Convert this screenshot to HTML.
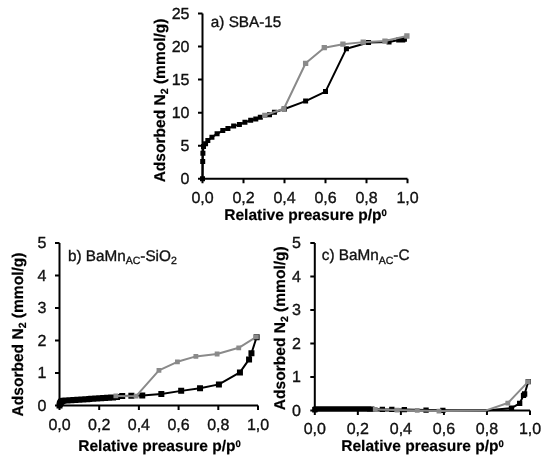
<!DOCTYPE html><html><head><meta charset="utf-8"><style>
html,body{margin:0;padding:0;background:#fff;width:550px;height:461px;overflow:hidden}
svg{display:block;will-change:transform}
text{font-family:'Liberation Sans', sans-serif;fill:#111;stroke:#111;stroke-width:0.35px;text-rendering:geometricPrecision}
.tk{font-size:16px}
.tt{font-size:15.55px;font-weight:bold;fill:#000;stroke:#000;stroke-width:0.2px}
.lb{font-size:15.3px}
</style></head><body>
<svg width="550" height="461" viewBox="0 0 550 461">
<path d="M202.50 13.50V178.80H407.50" fill="none" stroke="#000" stroke-width="2.0"/>
<text class="tk" x="189.50" y="183.90" text-anchor="end">0</text>
<text class="tk" x="189.50" y="150.84" text-anchor="end">5</text>
<text class="tk" x="189.50" y="117.78" text-anchor="end">10</text>
<text class="tk" x="189.50" y="84.72" text-anchor="end">15</text>
<text class="tk" x="189.50" y="51.66" text-anchor="end">20</text>
<text class="tk" x="189.50" y="18.60" text-anchor="end">25</text>
<text class="tk" x="202.50" y="202.80" text-anchor="middle">0,0</text>
<text class="tk" x="243.50" y="202.80" text-anchor="middle">0,2</text>
<text class="tk" x="284.50" y="202.80" text-anchor="middle">0,4</text>
<text class="tk" x="325.50" y="202.80" text-anchor="middle">0,6</text>
<text class="tk" x="366.50" y="202.80" text-anchor="middle">0,8</text>
<text class="tk" x="407.50" y="202.80" text-anchor="middle">1,0</text>
<path d="M198.00 178.80H202.50M198.00 145.74H202.50M198.00 112.68H202.50M198.00 79.62H202.50M198.00 46.56H202.50M198.00 13.50H202.50M202.50 178.80V183.30M243.50 178.80V183.30M284.50 178.80V183.30M325.50 178.80V183.30M366.50 178.80V183.30M407.50 178.80V183.30" stroke="#000" stroke-width="2.0" fill="none"/>
<path d="M202.50 178.80 L202.71 161.41 L202.91 153.21 L203.53 146.40 L205.57 143.76 L207.83 140.45 L211.93 137.14 L217.06 133.84 L222.80 130.53 L227.92 128.42 L233.66 126.10 L239.40 124.58 L244.94 122.27 L250.68 120.35 L255.80 119.09 L260.31 117.18 L269.53 114.66 L274.45 112.22 L284.50 109.04 L305.62 101.11 L325.50 91.59 L346.41 48.68 L368.55 42.46 L389.05 41.93 L398.69 39.95 L402.78 39.95 L404.43 39.29" fill="none" stroke="#000" stroke-width="2" stroke-linejoin="round"/>
<path d="M200.00 176.30h5.0v5.0h-5.0zM200.21 158.91h5.0v5.0h-5.0zM200.41 150.71h5.0v5.0h-5.0zM201.03 143.90h5.0v5.0h-5.0zM203.07 141.26h5.0v5.0h-5.0zM205.33 137.95h5.0v5.0h-5.0zM209.43 134.64h5.0v5.0h-5.0zM214.56 131.34h5.0v5.0h-5.0zM220.30 128.03h5.0v5.0h-5.0zM225.42 125.92h5.0v5.0h-5.0zM231.16 123.60h5.0v5.0h-5.0zM236.90 122.08h5.0v5.0h-5.0zM242.44 119.77h5.0v5.0h-5.0zM248.18 117.85h5.0v5.0h-5.0zM253.30 116.59h5.0v5.0h-5.0zM257.81 114.68h5.0v5.0h-5.0zM267.03 112.16h5.0v5.0h-5.0zM271.95 109.72h5.0v5.0h-5.0zM282.00 106.54h5.0v5.0h-5.0zM303.12 98.61h5.0v5.0h-5.0zM323.00 89.09h5.0v5.0h-5.0zM343.91 46.18h5.0v5.0h-5.0zM366.05 39.96h5.0v5.0h-5.0zM386.55 39.43h5.0v5.0h-5.0zM396.19 37.45h5.0v5.0h-5.0zM400.28 37.45h5.0v5.0h-5.0zM401.93 36.79h5.0v5.0h-5.0z" fill="#000"/>
<path d="M406.88 35.98 L384.95 41.07 L363.22 42.13 L342.93 44.18 L324.27 47.68 L305.62 63.29 L283.88 108.78 L264.82 115.32" fill="none" stroke="#8a8a8a" stroke-width="2" stroke-linejoin="round"/>
<path d="M404.24 33.33h5.3v5.3h-5.3zM382.30 38.42h5.3v5.3h-5.3zM360.57 39.48h5.3v5.3h-5.3zM340.28 41.53h5.3v5.3h-5.3zM321.62 45.03h5.3v5.3h-5.3zM302.97 60.64h5.3v5.3h-5.3zM281.24 106.13h5.3v5.3h-5.3zM262.17 112.67h5.3v5.3h-5.3z" fill="#8a8a8a"/>
<text class="tt" x="305.50" y="219.80" text-anchor="middle">Relative preasure p/p<tspan dy="-4.2" font-size="9.5">0</tspan></text>
<text class="tt" transform="translate(164.50 100.40) rotate(-90)" text-anchor="middle">Adsorbed N<tspan dy="3" font-size="10.5">2</tspan><tspan dy="-3"> (mmol/g)</tspan></text>
<text class="lb" x="210.80" y="26.90">a) SBA-15</text>
<path d="M59.50 242.90V405.50H258.00" fill="none" stroke="#000" stroke-width="2.0"/>
<text class="tk" x="46.40" y="410.60" text-anchor="end">0</text>
<text class="tk" x="46.40" y="378.08" text-anchor="end">1</text>
<text class="tk" x="46.40" y="345.56" text-anchor="end">2</text>
<text class="tk" x="46.40" y="313.04" text-anchor="end">3</text>
<text class="tk" x="46.40" y="280.52" text-anchor="end">4</text>
<text class="tk" x="46.40" y="248.00" text-anchor="end">5</text>
<text class="tk" x="59.50" y="430.30" text-anchor="middle">0,0</text>
<text class="tk" x="99.20" y="430.30" text-anchor="middle">0,2</text>
<text class="tk" x="138.90" y="430.30" text-anchor="middle">0,4</text>
<text class="tk" x="178.60" y="430.30" text-anchor="middle">0,6</text>
<text class="tk" x="218.30" y="430.30" text-anchor="middle">0,8</text>
<text class="tk" x="258.00" y="430.30" text-anchor="middle">1,0</text>
<path d="M55.00 405.50H59.50M55.00 372.98H59.50M55.00 340.46H59.50M55.00 307.94H59.50M55.00 275.42H59.50M55.00 242.90H59.50M59.50 405.50V410.00M99.20 405.50V410.00M138.90 405.50V410.00M178.60 405.50V410.00M218.30 405.50V410.00M258.00 405.50V410.00" stroke="#000" stroke-width="2.0" fill="none"/>
<path d="M59.50 405.50 L59.90 403.97 L60.29 402.94 L60.89 401.98 L61.48 401.43 L62.28 401.04 L63.47 400.77 L65.45 400.57 L67.44 400.43 L69.42 400.30 L71.41 400.17 L73.39 400.04 L75.38 399.91 L77.36 399.78 L79.35 399.65 L81.34 399.52 L83.32 399.39 L85.31 399.26 L87.29 399.13 L89.28 399.00 L91.26 398.87 L93.25 398.74 L95.23 398.61 L97.22 398.48 L99.20 398.35 L101.19 398.22 L103.17 398.09 L105.16 397.96 L107.14 397.83 L109.12 397.70 L111.11 397.57 L113.09 397.44 L117.06 396.88 L122.23 396.07 L131.36 395.74 L142.27 395.42 L161.33 393.99 L181.18 390.87 L200.04 388.30 L218.90 384.39 L239.94 372.39 L249.07 359.39 L251.45 353.21 L256.61 337.31" fill="none" stroke="#000" stroke-width="2" stroke-linejoin="round"/>
<path d="M56.50 402.50h6.0v6.0h-6.0zM56.90 400.97h6.0v6.0h-6.0zM57.29 399.94h6.0v6.0h-6.0zM57.89 398.98h6.0v6.0h-6.0zM58.48 398.43h6.0v6.0h-6.0zM59.28 398.04h6.0v6.0h-6.0zM60.47 397.77h6.0v6.0h-6.0zM62.45 397.57h6.0v6.0h-6.0zM64.44 397.43h6.0v6.0h-6.0zM66.42 397.30h6.0v6.0h-6.0zM68.41 397.17h6.0v6.0h-6.0zM70.39 397.04h6.0v6.0h-6.0zM72.38 396.91h6.0v6.0h-6.0zM74.36 396.78h6.0v6.0h-6.0zM76.35 396.65h6.0v6.0h-6.0zM78.34 396.52h6.0v6.0h-6.0zM80.32 396.39h6.0v6.0h-6.0zM82.31 396.26h6.0v6.0h-6.0zM84.29 396.13h6.0v6.0h-6.0zM86.28 396.00h6.0v6.0h-6.0zM88.26 395.87h6.0v6.0h-6.0zM90.25 395.74h6.0v6.0h-6.0zM92.23 395.61h6.0v6.0h-6.0zM94.22 395.48h6.0v6.0h-6.0zM96.20 395.35h6.0v6.0h-6.0zM98.19 395.22h6.0v6.0h-6.0zM100.17 395.09h6.0v6.0h-6.0zM102.16 394.96h6.0v6.0h-6.0zM104.14 394.83h6.0v6.0h-6.0zM106.12 394.70h6.0v6.0h-6.0zM108.11 394.57h6.0v6.0h-6.0zM110.09 394.44h6.0v6.0h-6.0zM114.06 393.88h6.0v6.0h-6.0zM119.23 393.07h6.0v6.0h-6.0zM128.36 392.74h6.0v6.0h-6.0zM139.27 392.42h6.0v6.0h-6.0zM158.33 390.99h6.0v6.0h-6.0zM178.18 387.87h6.0v6.0h-6.0zM197.04 385.30h6.0v6.0h-6.0zM215.90 381.39h6.0v6.0h-6.0zM236.94 369.39h6.0v6.0h-6.0zM246.07 356.39h6.0v6.0h-6.0zM248.45 350.21h6.0v6.0h-6.0zM253.61 334.31h6.0v6.0h-6.0z" fill="#000"/>
<path d="M256.41 336.88 L238.75 347.81 L217.11 353.99 L195.87 356.39 L177.41 361.79 L158.95 370.41 L136.12 396.20 L115.87 395.91" fill="none" stroke="#8a8a8a" stroke-width="2" stroke-linejoin="round"/>
<path d="M254.01 334.48h4.8v4.8h-4.8zM236.35 345.41h4.8v4.8h-4.8zM214.71 351.59h4.8v4.8h-4.8zM193.47 353.99h4.8v4.8h-4.8zM175.01 359.39h4.8v4.8h-4.8zM156.55 368.01h4.8v4.8h-4.8zM133.72 393.80h4.8v4.8h-4.8zM113.47 393.51h4.8v4.8h-4.8z" fill="#8a8a8a"/>
<text class="tt" x="159.50" y="450.90" text-anchor="middle">Relative preasure p/p<tspan dy="-4.2" font-size="9.5">0</tspan></text>
<text class="tt" transform="translate(23.00 334.50) rotate(-90)" text-anchor="middle">Adsorbed N<tspan dy="3" font-size="10.5">2</tspan><tspan dy="-3"> (mmol/g)</tspan></text>
<text class="lb" x="67.90" y="260.70">b) BaMn<tspan dy="3.5" font-size="10.5">AC</tspan><tspan dy="-3.5">-SiO</tspan><tspan dy="3.5" font-size="10.5">2</tspan></text>
<path d="M314.80 242.90V410.40H530.00" fill="none" stroke="#000" stroke-width="2.0"/>
<text class="tk" x="300.80" y="415.50" text-anchor="end">0</text>
<text class="tk" x="300.80" y="382.00" text-anchor="end">1</text>
<text class="tk" x="300.80" y="348.50" text-anchor="end">2</text>
<text class="tk" x="300.80" y="315.00" text-anchor="end">3</text>
<text class="tk" x="300.80" y="281.50" text-anchor="end">4</text>
<text class="tk" x="300.80" y="248.00" text-anchor="end">5</text>
<text class="tk" x="314.80" y="433.50" text-anchor="middle">0,0</text>
<text class="tk" x="357.84" y="433.50" text-anchor="middle">0,2</text>
<text class="tk" x="400.88" y="433.50" text-anchor="middle">0,4</text>
<text class="tk" x="443.92" y="433.50" text-anchor="middle">0,6</text>
<text class="tk" x="486.96" y="433.50" text-anchor="middle">0,8</text>
<text class="tk" x="530.00" y="433.50" text-anchor="middle">1,0</text>
<path d="M310.30 410.40H314.80M310.30 376.90H314.80M310.30 343.40H314.80M310.30 309.90H314.80M310.30 276.40H314.80M310.30 242.90H314.80M314.80 410.40V414.90M357.84 410.40V414.90M400.88 410.40V414.90M443.92 410.40V414.90M486.96 410.40V414.90M530.00 410.40V414.90" stroke="#000" stroke-width="2.0" fill="none"/>
<path d="M314.80 409.73 L315.45 409.06 L316.95 408.89 L319.10 408.89 L321.26 408.89 L323.41 408.89 L325.56 408.89 L327.71 408.89 L329.86 408.89 L332.02 408.89 L334.17 408.89 L336.32 408.89 L338.47 408.89 L340.62 408.89 L342.78 408.89 L344.93 408.89 L347.08 408.89 L349.23 408.89 L351.38 408.89 L353.54 408.89 L355.69 408.89 L357.84 408.89 L359.99 408.89 L362.14 408.89 L364.30 408.89 L366.45 408.89 L368.60 408.89 L369.68 409.06 L371.83 409.06 L382.37 409.39 L391.84 409.39 L404.32 409.56 L426.06 410.06 L442.84 410.40 L486.10 410.40 L511.49 408.05 L519.67 403.36 L523.54 395.32 L524.62 393.98 L528.28 381.59" fill="none" stroke="#000" stroke-width="2" stroke-linejoin="round"/>
<path d="M312.15 407.08h5.3v5.3h-5.3zM312.80 406.41h5.3v5.3h-5.3zM314.30 406.24h5.3v5.3h-5.3zM316.45 406.24h5.3v5.3h-5.3zM318.61 406.24h5.3v5.3h-5.3zM320.76 406.24h5.3v5.3h-5.3zM322.91 406.24h5.3v5.3h-5.3zM325.06 406.24h5.3v5.3h-5.3zM327.21 406.24h5.3v5.3h-5.3zM329.37 406.24h5.3v5.3h-5.3zM331.52 406.24h5.3v5.3h-5.3zM333.67 406.24h5.3v5.3h-5.3zM335.82 406.24h5.3v5.3h-5.3zM337.97 406.24h5.3v5.3h-5.3zM340.13 406.24h5.3v5.3h-5.3zM342.28 406.24h5.3v5.3h-5.3zM344.43 406.24h5.3v5.3h-5.3zM346.58 406.24h5.3v5.3h-5.3zM348.73 406.24h5.3v5.3h-5.3zM350.89 406.24h5.3v5.3h-5.3zM353.04 406.24h5.3v5.3h-5.3zM355.19 406.24h5.3v5.3h-5.3zM357.34 406.24h5.3v5.3h-5.3zM359.49 406.24h5.3v5.3h-5.3zM361.65 406.24h5.3v5.3h-5.3zM363.80 406.24h5.3v5.3h-5.3zM365.95 406.24h5.3v5.3h-5.3zM367.03 406.41h5.3v5.3h-5.3zM369.18 406.41h5.3v5.3h-5.3zM379.72 406.75h5.3v5.3h-5.3zM389.19 406.75h5.3v5.3h-5.3zM401.67 406.91h5.3v5.3h-5.3zM423.41 407.42h5.3v5.3h-5.3zM440.19 407.75h5.3v5.3h-5.3zM508.84 405.40h5.3v5.3h-5.3zM517.02 400.71h5.3v5.3h-5.3zM520.89 392.68h5.3v5.3h-5.3zM521.97 391.33h5.3v5.3h-5.3zM525.63 378.94h5.3v5.3h-5.3z" fill="#000"/>
<path d="M528.28 381.59 L507.83 403.03 L486.10 410.40 L438.97 411.07 L417.24 410.40 L397.01 410.06 L375.27 409.39" fill="none" stroke="#8a8a8a" stroke-width="2" stroke-linejoin="round"/>
<path d="M525.88 379.19h4.8v4.8h-4.8zM505.43 400.63h4.8v4.8h-4.8zM436.57 408.67h4.8v4.8h-4.8zM414.84 408.00h4.8v4.8h-4.8zM394.61 407.67h4.8v4.8h-4.8zM372.87 407.00h4.8v4.8h-4.8z" fill="#8a8a8a"/>
<text class="tt" x="422.50" y="451.00" text-anchor="middle">Relative preasure p/p<tspan dy="-4.2" font-size="9.5">0</tspan></text>
<text class="tt" transform="translate(285.00 328.20) rotate(-90)" text-anchor="middle">Adsorbed N<tspan dy="3" font-size="10.5">2</tspan><tspan dy="-3"> (mmol/g)</tspan></text>
<text class="lb" x="321.80" y="260.40">c) BaMn<tspan dy="3.5" font-size="10.5">AC</tspan><tspan dy="-3.5">-C</tspan></text>
</svg></body></html>
